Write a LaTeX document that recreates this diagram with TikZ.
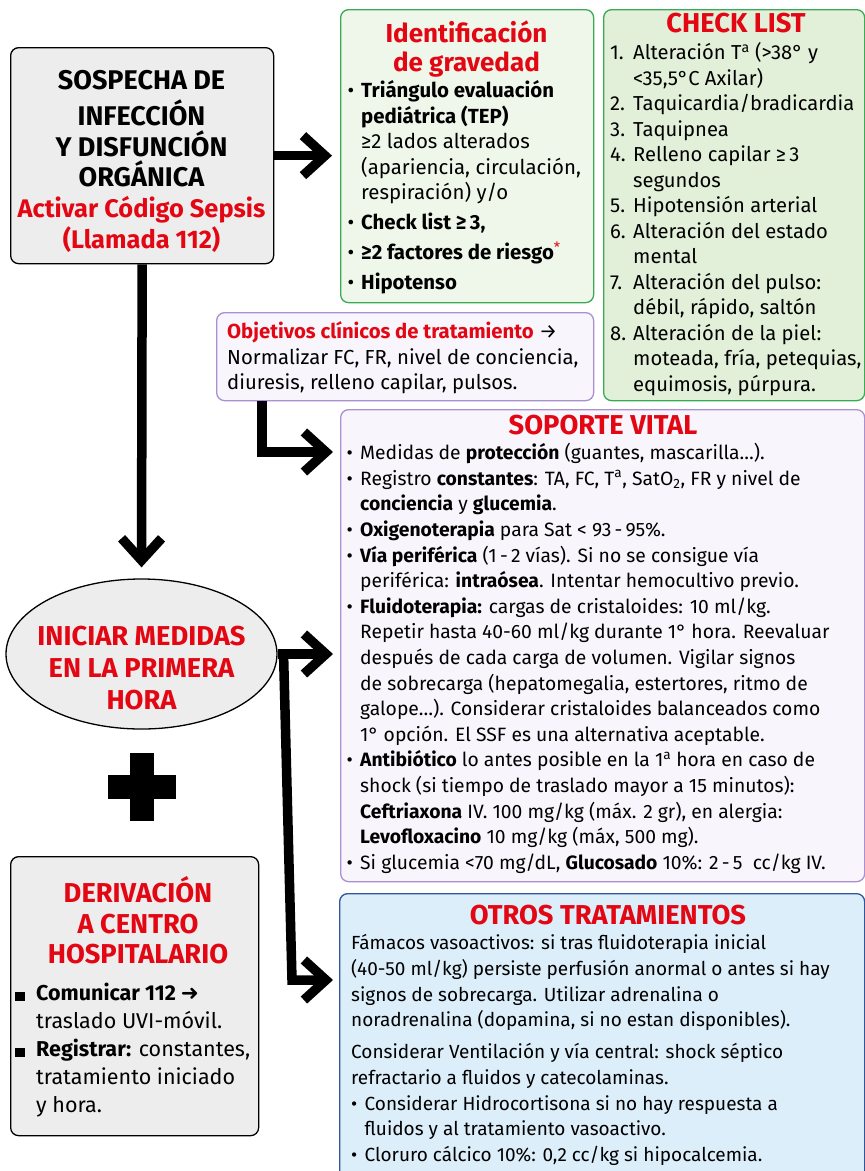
\documentclass[tikz,border=0pt]{standalone}
\usepackage{fontspec}
\setmainfont{Fira Sans}
\newfontfamily\dejavu{DejaVu Sans}
\usetikzlibrary{arrows.meta,shapes.geometric,calc}
\definecolor{myred}{HTML}{E30613}
\definecolor{boxgray}{HTML}{EDEDED}
\definecolor{gfill}{HTML}{EFF6EA}
\definecolor{cfill}{HTML}{E2EFD9}
\definecolor{gline}{HTML}{3AAA55}
\definecolor{pfill}{HTML}{F8F6FC}
\definecolor{pline}{HTML}{A990D0}
\definecolor{bfill}{HTML}{DDEEFB}
\definecolor{bline}{HTML}{2F559A}
\newcommand\bul{\makebox[13.5pt][l]{•}}
\newcommand\ind{\hspace*{13.5pt}}
\newcommand\cnum[1]{\makebox[23pt][l]{#1.}}
\newcommand\cind{\hspace*{23pt}}
\newcommand\sqb{\makebox[21pt][l]{\rule{9.5pt}{9pt}}}
\newcommand\sqind{\hspace*{21pt}}
\newcommand\supa{\textsuperscript{a}}
\begin{document}
\begin{tikzpicture}[x=1pt,y=-1pt,
  box/.style={rounded corners=8pt, line width=1.3pt, anchor=north west, inner sep=0pt},
  graybox/.style={box, draw=black, fill=boxgray},
  greenbox/.style={box, draw=gline, fill=gfill},
  checkbox/.style={box, draw=gline, fill=cfill},
  purplebox/.style={box, draw=pline, fill=pfill},
  bluebox/.style={box, draw=bline, fill=bfill},
  bigarrow/.style={line width=9.5pt, line join=miter, -{Straight Barb[sharp,length=22pt,width=40pt]}},
  txt/.style={anchor=north west, inner sep=0pt, align=left, text=black},
  title/.style={inner sep=0pt, align=center, text=myred, font=\bfseries\fontsize{27.3}{30}\selectfont},
]
\useasboundingbox (0,0) rectangle (865,1171);
\fill[white] (0,0) rectangle (865,1171);

% boxes
\node[graybox, minimum width=263pt, minimum height=216pt] (sos) at (10,47) {};
\node[greenbox, minimum width=253pt, minimum height=293pt] (grav) at (340,9) {};
\node[checkbox, minimum width=261pt, minimum height=391pt] (check) at (603,9) {};
\node[purplebox, minimum width=377pt, minimum height=88pt] (obj) at (216,312) {};
\node[purplebox, minimum width=524pt, minimum height=472pt] (sop) at (340,409) {};
\node[bluebox, minimum width=525pt, minimum height=300pt] (ot) at (339,893) {};
\node[graybox, minimum width=248pt, minimum height=279pt] (der) at (10,856) {};
\node[ellipse, draw=black, line width=1.3pt, fill=boxgray, minimum width=271pt, minimum height=150pt, inner sep=0pt] (ell) at (141.5,654) {};

% SOSPECHA text
\node[inner sep=0pt, anchor=north, align=center, font=\bfseries\fontsize{27}{30.8}\selectfont] (sostxt) at (141.5,67.5)
{\strut SOSPECHA DE\\INFECCIÓN\\Y DISFUNCIÓN\\ORGÁNICA\\\textcolor{myred}{\fontsize{25.4}{30.8}\selectfont Activar Código Sepsis}\\\textcolor{myred}{\fontsize{25.4}{30.8}\selectfont(Llamada 112)}};

% Identificacion
\node[title, anchor=north, font=\bfseries\fontsize{26}{28.5}\selectfont] (gravtit) at (466.5,21) {\strut Identificación\\de gravedad};
\node[txt, font=\fontsize{20.4}{25.5}\selectfont] (gravtxt) at (347.5,79.6) {%
\strut\bul{}\textbf{Triángulo evaluación}\\
\ind{}\textbf{pediátrica (TEP)}\\
\ind{}≥2 lados alterados\\
\ind{}(apariencia, circulación,\\
\ind{}respiración) y/o\\[4.5pt]
\bul{}\textbf{Check list ≥\,3,}\\[4.5pt]
\bul{}\textbf{≥2 factores de riesgo}\textsuperscript{\textcolor{myred}{*}}\\[4.5pt]
\bul{}\textbf{Hipotenso}};

% Check list
\node[title, anchor=base] (checktit) at (736,32) {CHECK LIST};
\node[txt, font=\fontsize{20.2}{25.5}\selectfont] (checktxt) at (610,41.6) {%
\strut\cnum{1}Alteración T\supa{} (>38° y\\
\cind{}<35,5°C Axilar)\\
\cnum{2}Taquicardia/bradicardia\\
\cnum{3}Taquipnea\\
\cnum{4}Relleno capilar ≥\,3\\
\cind{}segundos\\
\cnum{5}Hipotensión arterial\\
\cnum{6}Alteración del estado\\
\cind{}mental\\
\cnum{7}Alteración del pulso:\\
\cind{}débil, rápido, saltón\\
\cnum{8}Alteración de la piel:\\
\cind{}moteada, fría, petequias,\\
\cind{}equimosis, púrpura.};

% Objetivos
\node[txt, font=\fontsize{20.3}{25.5}\selectfont] (objtxt) at (227,320.6) {%
\strut\textcolor{myred}{\bfseries Objetivos clínicos de tratamiento} →\\
Normalizar FC, FR, nivel de conciencia,\\
diuresis, relleno capilar, pulsos.};

% Soporte vital
\node[title, anchor=base] (soptit) at (603,434) {SOPORTE VITAL};
\node[txt, font=\fontsize{19.3}{25.6}\selectfont] (soptxt) at (346.5,441.6) {%
\strut\bul{}Medidas de \textbf{protección} (guantes, mascarilla…).\\
\bul{}Registro \textbf{constantes}: TA, FC, T\supa, SatO\textsubscript{2}, FR y nivel de\\
\ind{}\textbf{conciencia} y \textbf{glucemia}.\\
\bul{}\textbf{Oxigenoterapia} para Sat < 93\,-\,95\%.\\
\bul{}\textbf{Vía periférica} (1\,-\,2 vías). Si no se consigue vía\\
\ind{}periférica: \textbf{intraósea}. Intentar hemocultivo previo.\\
\bul{}\textbf{Fluidoterapia:} cargas de cristaloides: 10 ml/kg.\\
\ind{}Repetir hasta 40-60 ml/kg durante 1° hora. Reevaluar\\
\ind{}después de cada carga de volumen. Vigilar signos\\
\ind{}de sobrecarga (hepatomegalia, estertores, ritmo de\\
\ind{}galope…). Considerar cristaloides balanceados como\\
\ind{}1° opción. El SSF es una alternativa aceptable.\\
\bul{}\textbf{Antibiótico} lo antes posible en la 1\supa{} hora en caso de\\
\ind{}shock (si tiempo de traslado mayor a 15 minutos):\\
\ind{}\textbf{Ceftriaxona} IV. 100 mg/kg (máx. 2 gr), en alergia:\\
\ind{}\textbf{Levofloxacino} 10 mg/kg (máx, 500 mg).\\
\bul{}Si glucemia <70 mg/dL, \textbf{Glucosado} 10\%: 2\,-\,5\ \ cc/kg IV.};

% Otros tratamientos
\node[title, anchor=base] (ottit) at (608,924) {OTROS TRATAMIENTOS};
\node[txt, font=\fontsize{19}{25.7}\selectfont] (ottxt) at (351,931.5) {%
\strut Fámacos vasoactivos: si tras fluidoterapia inicial\\
(40-50 ml/kg) persiste perfusión anormal o antes si hay\\
signos de sobrecarga. Utilizar adrenalina o\\
noradrenalina (dopamina, si no estan disponibles).\\[6.3pt]
Considerar Ventilación y vía central: shock séptico\\
refractario a fluidos y catecolaminas.\\
\bul{}Considerar Hidrocortisona si no hay respuesta a\\
\ind{}fluidos y al tratamiento vasoactivo.\\
\bul{}Cloruro cálcico 10\%: 0,2 cc/kg si hipocalcemia.};

% Iniciar medidas
\node[title, anchor=north, font=\bfseries\fontsize{27.3}{32}\selectfont] (elltxt) at (141.5,622.6) {\strut INICIAR MEDIDAS\\EN LA PRIMERA\\HORA};

% plus sign
\fill[black] (108,775) rectangle (176,799);
\fill[black] (130,753) rectangle (154,821);

% Derivacion
\node[title, anchor=north, font=\bfseries\fontsize{27.3}{30.5}\selectfont] (dertit) at (138,876.6) {\strut DERIVACIÓN\\A CENTRO\\HOSPITALARIO};
\node[txt, font=\fontsize{21.5}{28}\selectfont] (dertxt) at (15,980.9) {%
\strut\sqb{}\textbf{Comunicar 112 {\dejavu\bfseries ➜}}\\
\sqind{}traslado UVI-móvil.\\
\sqb{}\textbf{Registrar:} constantes,\\
\sqind{}tratamiento iniciado\\
\sqind{}y hora.};

% connectors
\coordinate (objout) at ([xshift=46pt]obj.south west);
\coordinate (split) at (283.5,652);
\coordinate (bend) at (292,980);
\draw[bigarrow, shorten >=8pt] (sos.east) -- (sos.east -| grav.west);
\draw[bigarrow, shorten >=11pt] (sos.south) -- (ell.north);
\draw[bigarrow, shorten >=7pt] (objout) |- ([yshift=-43pt]sop.north west);
\draw[bigarrow, shorten >=7pt] (ell.east) -- (ell.east -| sop.west);
\draw[bigarrow, shorten >=6pt] (split) -- (bend) -- (bend -| ot.west);
\end{tikzpicture}
\end{document}
